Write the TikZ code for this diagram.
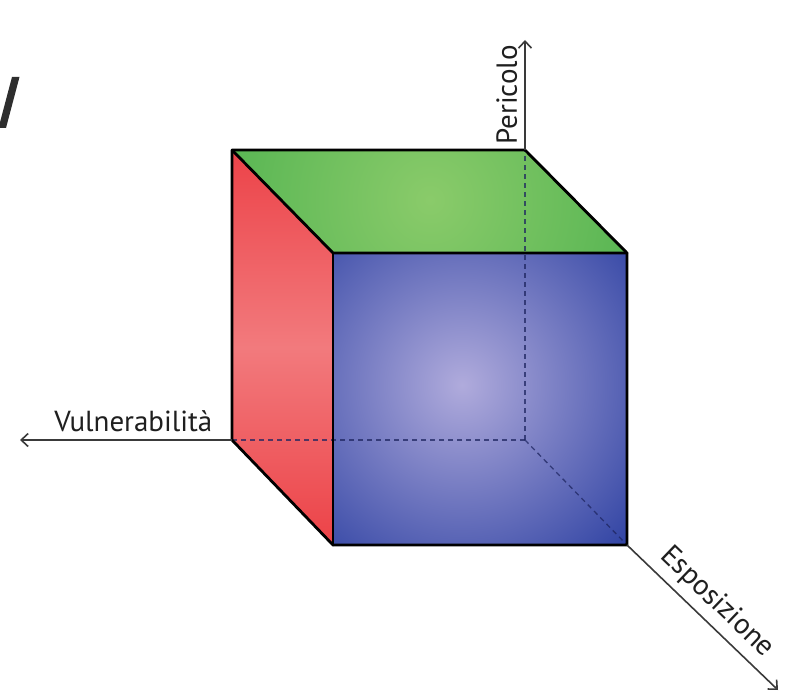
\documentclass[tikz,border=0pt]{standalone}
\usepackage{fontspec}
\setmainfont{PT Sans}
\usetikzlibrary{arrows.meta}
\definecolor{greenlight}{HTML}{8ACB6A}
\definecolor{greendark}{HTML}{3BA946}
\definecolor{bluelight}{HTML}{B0ABDC}
\definecolor{bluedark}{HTML}{3043A3}
\definecolor{redtop}{HTML}{E9262D}
\definecolor{redmid}{HTML}{F27A7D}
\definecolor{redbot}{HTML}{E9252B}
\definecolor{axisgray}{HTML}{3A3A3A}
\definecolor{hidden}{HTML}{1E2560}
\pgfdeclareverticalshading{redface}{100bp}{color(0bp)=(redbot); color(12bp)=(redbot); color(50bp)=(redmid); color(88bp)=(redtop); color(100bp)=(redtop)}
\tikzset{
  cubeedge/.style={draw=black, line width=2.8pt, line join=round, line cap=round},
  axisline/.style={draw=axisgray, line width=1.6pt, -{Straight Barb[length=7pt,width=13pt,line width=1.6pt]}},
  hiddenedge/.style={draw=hidden, line width=1.3pt, dash pattern=on 5pt off 4pt, opacity=0.75},
  axislabel/.style={font=\fontsize{29}{29}\selectfont, text=black!88, inner sep=0pt}
}
\begin{document}
\begin{tikzpicture}[x=1pt,y=-1pt]
\useasboundingbox (0,0) rectangle (787,700);
\coordinate (A) at (232,150);
\coordinate (D) at (525,150);
\coordinate (B) at (333,253);
\coordinate (C) at (627,253);
\coordinate (E) at (333,545);
\coordinate (F) at (627,545);
\coordinate (G) at (232,440);
\coordinate (H) at (525,440);
\coordinate (Ptip) at (525,40);
\coordinate (Vtip) at (20,440);
\coordinate (Etip) at (778,690);
% partial glyph at top left
\fill[black!82] (12,77) -- (19.5,77) -- (6,128) -- (-1.5,128) -- cycle;
% top face
\begin{scope}
  \clip (A) -- (D) -- (C) -- (B) -- cycle;
  \shade[inner color=greenlight, outer color=greendark] (430,200) circle (330);
\end{scope}
% left face
\begin{scope}
  \clip (A) -- (B) -- (E) -- (G) -- cycle;
  \shade[shading=redface] (232,150) rectangle (333,545);
\end{scope}
% front face
\begin{scope}
  \clip (B) -- (C) -- (F) -- (E) -- cycle;
  \shade[inner color=bluelight, outer color=bluedark] (462,385) circle (230);
\end{scope}
% hidden edges
\draw[hiddenedge] (H) -- (G);
\draw[hiddenedge] (H) -- (D);
\draw[hiddenedge] (H) -- (F);
% cube edges
\draw[cubeedge] (A) -- (D) -- (C) -- (F) -- (E) -- (G) -- cycle;
\draw[cubeedge] (A) -- (B) -- (C);
\draw[cubeedge] (B) -- (E);
% axes
\draw[axisline] (D) -- (Ptip) node[axislabel, sloped, above=7pt, pos=0.5] (Plabel) {Pericolo};
\draw[axisline] (G) -- (Vtip) node[axislabel, above=7pt, pos=0.465] (Vlabel) {Vulnerabilità};
\draw[axisline] (F) -- (Etip) node[axislabel, sloped, above=7pt, pos=0.5] (Elabel) {Esposizione};
\end{tikzpicture}
\end{document}
